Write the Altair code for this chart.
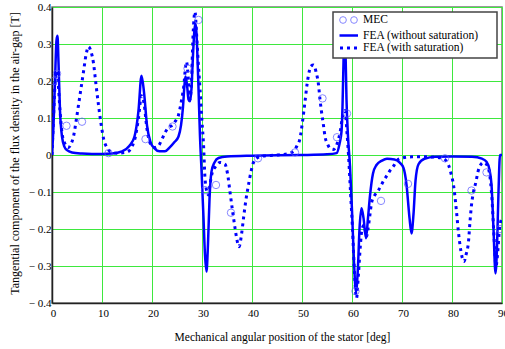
import altair as alt
import pandas as pd

# ---------------- data ----------------
sol_x = [0.0, 0.3, 0.6, 0.9, 1.1, 1.3, 1.6, 2.0, 2.5, 3.0, 4.0, 6.0, 8.0, 10.0, 12.0, 14.0,
         15.5, 16.5, 17.3, 17.9, 18.4, 19.0, 19.7, 20.5, 21.5, 22.6, 23.5, 24.5, 25.3, 25.8,
         26.2, 26.5, 26.7, 27.0, 27.3, 27.6, 27.9, 28.2, 28.5, 28.7, 29.0, 29.3, 29.6, 29.9,
         30.3, 30.6, 30.9, 31.2, 31.5, 31.9, 32.5, 33.3, 35.0, 40.0, 45.0, 50.0, 55.0, 56.9,
         57.5, 57.9, 58.1, 58.3, 58.5, 58.7, 58.9, 59.2, 59.6, 60.0, 60.4, 60.8, 61.2, 61.5,
         61.9, 62.3, 62.8, 63.2, 63.6, 64.2, 64.9, 66.0, 67.0, 68.5, 69.5, 70.3, 70.9, 71.5,
         71.9, 72.3, 72.7, 73.3, 74.5, 76.7, 80.0, 84.0, 86.0, 86.9, 87.5, 87.9, 88.3, 88.7,
         89.0, 89.3, 89.6, 90.0]
sol_y = [0.0, 0.08, 0.2, 0.31, 0.322, 0.25, 0.12, 0.05, 0.022, 0.013, 0.007, 0.004, 0.003,
         0.003, 0.004, 0.01, 0.025, 0.05, 0.12, 0.214, 0.17, 0.08, 0.035, 0.018, 0.01, 0.01,
         0.02, 0.035, 0.05, 0.08, 0.13, 0.19, 0.212, 0.19, 0.15, 0.145, 0.18, 0.27, 0.34,
         0.355, 0.3, 0.18, 0.05, -0.04, -0.17, -0.27, -0.315, -0.24, -0.12, -0.045, -0.02,
         -0.008, -0.004, -0.002, -0.001, 0.0, 0.002, 0.005, 0.03, 0.063, 0.13, 0.25, 0.33,
         0.28, 0.15, 0.05, -0.03, -0.15, -0.29, -0.37, -0.3, -0.2, -0.144, -0.17, -0.225,
         -0.17, -0.11, -0.05, -0.027, -0.015, -0.01, -0.012, -0.02, -0.035, -0.08, -0.17,
         -0.212, -0.16, -0.07, -0.025, -0.01, -0.005, -0.004, -0.005, -0.01, -0.018, -0.04,
         -0.08, -0.2, -0.32, -0.25, -0.1, 0.0, 0.0]

sat_x = [0.0, 0.3, 0.6, 0.9, 1.2, 1.6, 2.0, 2.6, 3.3, 3.8, 4.3, 4.8, 5.3, 5.8, 6.3, 6.8, 7.3,
         7.8, 8.3, 8.8, 9.3, 9.8, 10.3, 11.0, 11.6, 13.0, 15.0, 16.5, 17.3, 17.9, 18.4, 19.0,
         19.7, 20.5, 21.3, 21.9, 22.6, 23.3, 24.0, 24.6, 25.3, 25.8, 26.3, 26.9, 27.3, 27.6,
         27.9, 28.2, 28.6, 28.9, 29.2, 29.6, 30.0, 30.3, 30.6, 31.0, 31.3, 31.6, 32.0, 32.8,
         33.6, 34.6, 35.1, 35.6, 36.1, 36.6, 37.0, 37.4, 37.9, 38.3, 38.8, 39.3, 39.8, 40.3,
         41.0, 42.0, 45.0, 47.0, 48.3, 49.0, 49.6, 50.1, 50.6, 51.0, 51.3, 51.8, 52.3, 52.8,
         53.3, 53.6, 53.9, 54.3, 54.6, 55.1, 55.6, 56.3, 57.0, 57.6, 58.2, 58.6, 59.0, 59.3,
         59.7, 60.1, 60.5, 60.9, 61.3, 61.7, 62.0, 62.4, 62.9, 63.2, 63.6, 63.9, 64.5, 65.3,
         66.3, 67.0, 67.6, 68.3, 69.0, 70.0, 72.0, 75.0, 78.0, 79.3, 79.8, 80.3, 80.9, 81.3,
         81.6, 82.0, 82.4, 82.8, 83.3, 83.6, 83.9, 84.3, 84.8, 85.2, 85.7, 86.3, 86.9, 87.5,
         88.0, 88.4, 88.8, 89.1, 89.5, 90.0]
sat_y = [0.0, 0.1, 0.19, 0.225, 0.2, 0.12, 0.06, 0.03, 0.02, 0.03, 0.05, 0.09, 0.135, 0.18,
         0.225, 0.27, 0.293, 0.28, 0.248, 0.19, 0.135, 0.085, 0.045, 0.02, 0.01, 0.005, 0.008,
         0.04, 0.1, 0.16, 0.14, 0.07, 0.03, 0.02, 0.025, 0.04, 0.06, 0.075, 0.08, 0.09, 0.108,
         0.14, 0.18, 0.252, 0.2, 0.15, 0.2, 0.32, 0.387, 0.33, 0.26, 0.18, 0.09, 0.03, -0.063,
         -0.1, -0.108, -0.08, -0.05, -0.03, -0.02, -0.025, -0.05, -0.1, -0.15, -0.197, -0.23,
         -0.248, -0.215, -0.171, -0.12, -0.081, -0.045, -0.02, -0.008, -0.003, 0.0, 0.003,
         0.01, 0.025, 0.045, 0.09, 0.144, 0.19, 0.216, 0.24, 0.243, 0.225, 0.19, 0.15, 0.117,
         0.08, 0.05, 0.03, 0.018, 0.015, 0.03, 0.06, 0.11, 0.12, 0.06, 0.0, -0.1, -0.2, -0.32,
         -0.387, -0.32, -0.24, -0.2, -0.19, -0.22, -0.2, -0.16, -0.13, -0.11, -0.095, -0.07,
         -0.055, -0.042, -0.03, -0.015, -0.008, -0.005, -0.005, -0.008, -0.027, -0.05, -0.081,
         -0.153, -0.21, -0.243, -0.275, -0.288, -0.27, -0.234, -0.18, -0.135, -0.1, -0.072,
         -0.045, -0.027, -0.02, -0.025, -0.05, -0.12, -0.22, -0.3, -0.27, -0.2, -0.17]

mec_x = [0.3, 1.0, 2.9, 6.0, 11.3, 18.7, 24.1, 27.1, 29.3, 30.6, 32.8, 35.8, 41.2, 48.6,
         54.1, 57.0, 59.0, 60.7, 65.8, 71.2, 78.6, 83.9, 86.9, 89.6]
mec_y = [0.2, 0.22, 0.079, 0.09, 0.005, 0.043, 0.077, 0.234, 0.365, -0.095, -0.081, -0.156,
         -0.009, 0.007, 0.153, 0.048, 0.112, -0.368, -0.124, -0.078, -0.009, -0.096, -0.047,
         -0.2]

x_ticks = [0, 10, 20, 30, 40, 50, 60, 70, 80, 90]
y_ticks = [-0.4, -0.3, -0.2, -0.1, 0.0, 0.1, 0.2, 0.3, 0.4]

legend_labels = ["MEC", "FEA (without saturation)", "FEA (with saturation)"]

FONT = "Liberation Serif"
BLUE = "#0000ff"
MEC_COLOR = "#5555ff"

sol = pd.DataFrame({"x": sol_x, "y": sol_y})
sat = pd.DataFrame({"x": sat_x, "y": sat_y})
mec = pd.DataFrame({"x": mec_x, "y": mec_y})

xscale = alt.Scale(domain=[0, 90], nice=False, zero=False)
yscale = alt.Scale(domain=[-0.4, 0.4], nice=False, zero=False)

x_axis = alt.Axis(
    values=x_ticks, grid=True, ticks=False, labelPadding=4, labelOffset=1,
    labelFlush=False, labelOverlap=False, labelFont=FONT, labelFontSize=11, labelColor="#000",
    title="Mechanical angular position of the stator [deg]",
    titleFont=FONT, titleFontSize=11.5, titleFontWeight="normal", titleColor="#000",
    titleX=230, titleY=34, titleBaseline="middle", titleAlign="center",
)
y_axis = alt.Axis(
    values=y_ticks, tickCount=9, grid=True, ticks=False, labelPadding=1, labelOverlap=False,
    labelFont=FONT, labelFontSize=11, labelColor="#000", labelBaseline="middle",
    labelExpr="datum.value == 0 ? '0' : (datum.value < 0 ? '\u2212 ' + format(abs(datum.value), '.1f') : format(datum.value, '.1f'))",
    title="Tangential component of the flux density in the air-gap [T]",
    titleFont=FONT, titleFontSize=12, titleFontWeight="normal", titleColor="#000",
    titleX=-38, titleY=146, titleAngle=-90, titleBaseline="middle", titleAlign="center",
)

X = alt.X("x:Q", scale=xscale, axis=x_axis)
Y = alt.Y("y:Q", scale=yscale, axis=y_axis)

dotted = alt.Chart(sat).mark_line(
    color=BLUE, strokeWidth=3, strokeDash=[3, 4], strokeCap="butt",
    interpolate="monotone", clip=True
).encode(x=X, y=Y)

solid = alt.Chart(sol).mark_line(
    color=BLUE, strokeWidth=2.5, interpolate="monotone", clip=True
).encode(x=X, y=Y)

points = alt.Chart(mec).mark_point(
    shape="circle", filled=False, size=55, color=MEC_COLOR, strokeWidth=1, clip=True
).encode(x=X, y=Y)

one = pd.DataFrame({"a": [0]})

leg_box = alt.Chart(one).mark_rect(
    fill="white", stroke="#444", strokeWidth=1.5
).encode(x=alt.value(281), x2=alt.value(445), y=alt.value(5), y2=alt.value(51))

leg_c1 = alt.Chart(one).mark_point(
    shape="circle", filled=False, size=45, color=MEC_COLOR, strokeWidth=1
).encode(x=alt.value(291), y=alt.value(13))
leg_c2 = alt.Chart(one).mark_point(
    shape="circle", filled=False, size=45, color=MEC_COLOR, strokeWidth=1
).encode(x=alt.value(302), y=alt.value(13))

leg_l1 = alt.Chart(one).mark_rule(color=BLUE, strokeWidth=2.5).encode(
    x=alt.value(287.5), x2=alt.value(306), y=alt.value(28.5))
leg_l2 = alt.Chart(one).mark_rule(color=BLUE, strokeWidth=3, strokeDash=[3, 4]).encode(
    x=alt.value(288), x2=alt.value(306), y=alt.value(41))

def leg_text(label, yv):
    return alt.Chart(one).mark_text(
        align="left", baseline="middle", font=FONT, fontSize=11.5, color="#000"
    ).encode(x=alt.value(311), y=alt.value(yv), text=alt.value(label))

chart = alt.layer(
    dotted, solid, points,
    leg_box, leg_c1, leg_c2, leg_l1, leg_l2,
    leg_text(legend_labels[0], 13),
    leg_text(legend_labels[1], 28.5),
    leg_text(legend_labels[2], 41),
).properties(
    width=450, height=296,
    autosize=alt.AutoSizeParams(type="none"),
    padding={"left": 52, "top": 7, "right": 3, "bottom": 46},
    background="white",
).configure_view(
    stroke="#7a7a7a", strokeWidth=1.5
).configure_axis(
    gridColor="#3ee83e", gridWidth=1, gridOpacity=1,
    domainColor="#222", domainWidth=1.5,
)

chart.save("out.html", embed_options={"renderer": "svg", "actions": False})
